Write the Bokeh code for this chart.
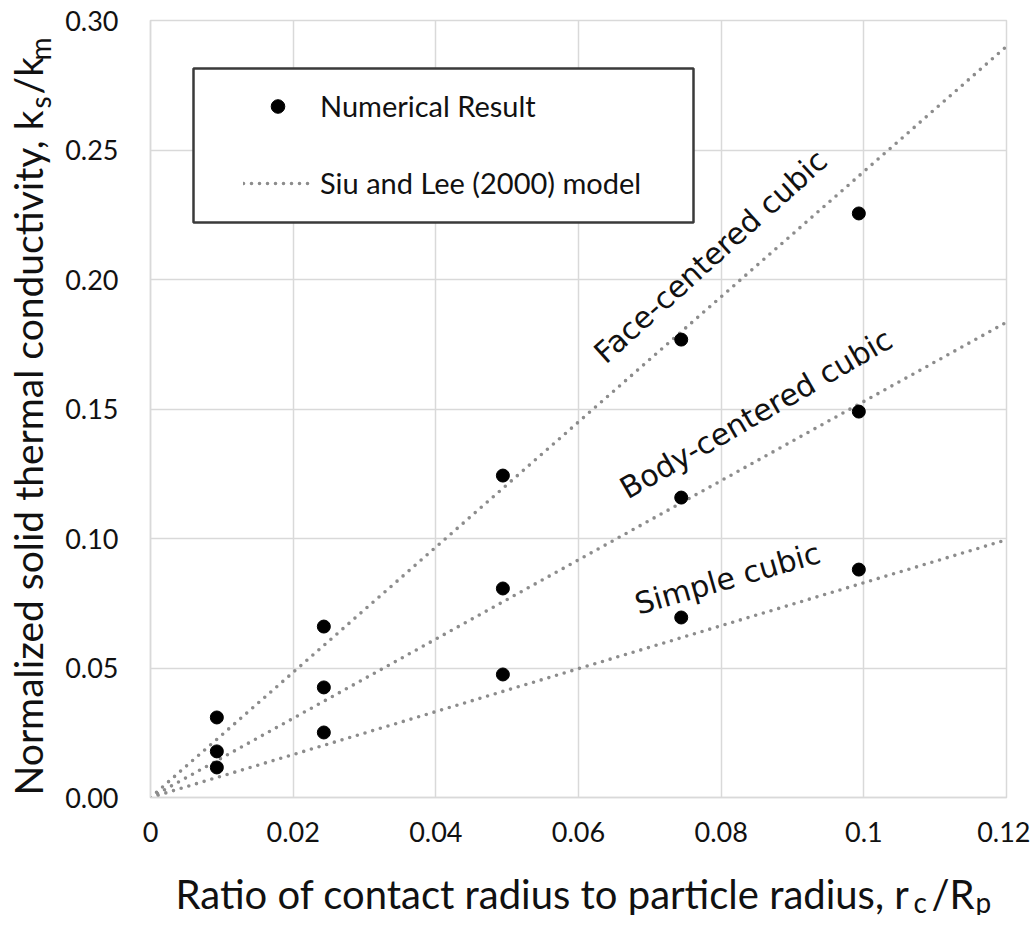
from bokeh.plotting import figure
from bokeh.layouts import row, column
from bokeh.models import (Range1d, FixedTicker, CustomJSTickFormatter, NumeralTickFormatter,
                          Legend, LegendItem, Label, BoxAnnotation, ColumnDataSource)
from bokeh.core.properties import value
from bokeh.embed import file_html
from bokeh.resources import INLINE

# ---- data ----
ratio = [0.0093, 0.0243, 0.0494, 0.0744, 0.0993]
fcc_num = [0.0309, 0.0660, 0.1243, 0.1768, 0.2255]
bcc_num = [0.0178, 0.0425, 0.0807, 0.1158, 0.1490]
sc_num = [0.0116, 0.0251, 0.0475, 0.0695, 0.0880]

model_x = [0.0, 0.12]
fcc_model = [0.0, 0.290]
bcc_model = [0.0, 0.1835]
sc_model = [0.0, 0.0995]

x_ticks = [0, 0.02, 0.04, 0.06, 0.08, 0.1, 0.12]
y_ticks = [0, 0.05, 0.10, 0.15, 0.20, 0.25, 0.30]

structure_names = ["Face-centered cubic", "Body-centered cubic", "Simple cubic"]
legend_labels = ["Numerical Result", "Siu and Lee (2000) model"]

# ---- layout of the annotation texts (placement only) ----
name_x = [0.0785, 0.0849, 0.0809]
name_y = [0.2089, 0.1482, 0.0846]
name_angle = [42, 30, 16]

GRID = "#d9d9d9"
TXT = "#111111"
MODEL = "#8c8c8c"
FONT = "Lato"

LEFT_W = 56          # strip holding the y-axis title
TOTAL_W, TOTAL_H = 1030, 915
MAIN_W = TOTAL_W - LEFT_W
MAIN_H = 857
BOTTOM_H = TOTAL_H - MAIN_H

fig = figure(width=MAIN_W, height=MAIN_H, output_backend="svg", toolbar_location=None,
             x_range=Range1d(0, 0.12), y_range=Range1d(0, 0.30),
             min_border_left=150 - LEFT_W, min_border_right=TOTAL_W - 1006,
             min_border_top=20, min_border_bottom=MAIN_H - 797)
fig.background_fill_color = "white"
fig.border_fill_color = "white"
fig.outline_line_color = GRID
fig.outline_line_width = 1.5

fig.xaxis.ticker = FixedTicker(ticks=x_ticks)
fig.yaxis.ticker = FixedTicker(ticks=y_ticks)
fig.xaxis.formatter = CustomJSTickFormatter(code="return tick.toString();")
fig.yaxis.formatter = NumeralTickFormatter(format="0.00")
for ax in (fig.xaxis, fig.yaxis):
    ax.axis_line_color = GRID
    ax.axis_line_width = 1.5
    ax.major_tick_line_color = None
    ax.minor_tick_line_color = None
    ax.major_tick_out = 0
    ax.major_tick_in = 0
    ax.major_label_text_font = FONT
    ax.major_label_text_font_size = "27px"
    ax.major_label_text_color = TXT
fig.yaxis.major_label_standoff = 32
fig.xaxis.major_label_standoff = 24

fig.grid.grid_line_color = GRID
fig.grid.grid_line_width = 1.5

# model lines
line_kw = dict(line_color=MODEL, line_width=3.6, line_dash="0 8", line_cap="round")
r_model = fig.line(model_x, fcc_model, **line_kw)
fig.line(model_x, bcc_model, **line_kw)
fig.line(model_x, sc_model, **line_kw)

# numerical points
pt_kw = dict(size=13, color="black", marker="circle")
r_pts = fig.scatter(ratio, fcc_num, **pt_kw)
fig.scatter(ratio, bcc_num, **pt_kw)
fig.scatter(ratio, sc_num, **pt_kw)

# structure names along the lines
src = ColumnDataSource(dict(x=name_x, y=name_y, t=structure_names, a=name_angle))
fig.text(x="x", y="y", text="t", angle="a", angle_units="deg", source=src,
         text_font=value("DejaVu Sans"), text_font_size="30px", text_color=TXT,
         text_align="center", text_baseline="alphabetic")

# legend frame + legend
box = BoxAnnotation(left=43, right=543, bottom=575, top=729,
                    left_units="screen", right_units="screen",
                    bottom_units="screen", top_units="screen",
                    fill_color="white", fill_alpha=1.0,
                    line_color="#3a3a3a", line_alpha=1.0, line_width=2.5)
fig.add_layout(box)

legend = Legend(items=[LegendItem(label=legend_labels[0], renderers=[r_pts]),
                       LegendItem(label=legend_labels[1], renderers=[r_model])],
                location=(93, 597), padding=0, margin=0, spacing=42,
                glyph_width=69, glyph_height=34, label_height=34, label_standoff=8,
                border_line_alpha=0, background_fill_alpha=0,
                label_text_font=FONT, label_text_font_size="29px", label_text_color=TXT)
fig.add_layout(legend)


# ---- title strips (plain figures whose frame is the whole strip) ----
def strip(w, h):
    s = figure(width=w, height=h, output_backend="svg", toolbar_location=None,
               x_range=Range1d(0, 1), y_range=Range1d(0, 1),
               x_axis_location=None, y_axis_location=None,
               min_border_left=0, min_border_right=0, min_border_top=0, min_border_bottom=0)
    s.outline_line_color = None
    s.background_fill_color = "white"
    s.border_fill_color = "white"
    s.grid.visible = False
    return s


def lab(s, x, y, text, size, align="left", angle=0):
    s.add_layout(Label(x=x, y=y, x_units="canvas", y_units="canvas", text=text,
                       text_font=FONT, text_font_size=size, text_color=TXT,
                       text_align=align, text_baseline="alphabetic",
                       angle=angle, angle_units="deg"))


left = strip(LEFT_W, TOTAL_H)
lab(left, 27, 110, "Normalized solid thermal conductivity, k", "39px", align="right", angle=90)
lab(left, 39, 108, "s", "28px", angle=90)
lab(left, 27, 94, "/k", "39px", angle=90)
lab(left, 39, 60, "m", "28px", angle=90)

bottom = strip(MAIN_W, BOTTOM_H)
ox, oy = LEFT_W, MAIN_H
lab(bottom, 909 - ox, 893 - oy, "Ratio of contact radius to particle radius, r", "40px", align="right")
lab(bottom, 913 - ox, 901 - oy, "c", "28px")
lab(bottom, 931 - ox, 893 - oy, "/R", "40px")
lab(bottom, 975 - ox, 901 - oy, "p", "28px")

p = row(left, column(fig, bottom, spacing=0), spacing=0)

open("out.html", "w").write(file_html(p, INLINE))
